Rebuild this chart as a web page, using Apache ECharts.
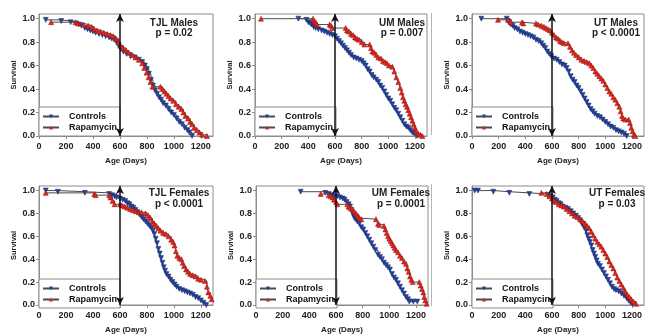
<!DOCTYPE html>
<html><head><meta charset="utf-8">
<script src="https://cdn.jsdelivr.net/npm/echarts@6/dist/echarts.min.js"></script>
<style>html,body{margin:0;padding:0;background:#fff}#c{width:645px;height:335px}</style>
</head><body><div id="c"></div>
<script>
// ---- data: [age (days), survival] ----
const panelTitles = ['TJL Males','UM Males','UT Males','TJL Females','UM Females','UT Females'];
const pValues = ['p = 0.02','p = 0.007','p < 0.0001','p < 0.0001','p = 0.0001','p = 0.03'];
const seriesNames = ['Controls','Rapamycin'];
const xTicks = [0,200,400,600,800,1000,1200];
const yTicks = [0.0,0.2,0.4,0.6,0.8,1.0];
const arrowAge = 600;

const tjlMalesControls = [[50,0.99],[165,0.98],[235,0.97],[275,0.96],[295,0.95],[315,0.94],[340,0.92],[360,0.91],[380,0.90],[400,0.89],[420,0.88],[445,0.87],[470,0.86],[495,0.85],[520,0.84],[540,0.83],[560,0.82],[575,0.80],[590,0.77],[605,0.74],[625,0.72],[650,0.70],[680,0.68],[710,0.67],[740,0.65],[765,0.63],[785,0.60],[800,0.57],[815,0.53],[830,0.48],[845,0.43],[860,0.39],[875,0.36],[890,0.33],[905,0.31],[920,0.28],[940,0.26],[960,0.23],[980,0.20],[1000,0.18],[1020,0.15],[1040,0.12],[1060,0.10],[1080,0.07],[1100,0.05],[1115,0.03],[1135,0.0]];
const tjlMalesRapamycin = [[90,0.97],[270,0.97],[290,0.96],[330,0.95],[365,0.94],[390,0.93],[410,0.91],[430,0.90],[455,0.89],[480,0.88],[505,0.87],[530,0.86],[550,0.85],[570,0.83],[590,0.80],[605,0.77],[625,0.75],[645,0.73],[665,0.71],[690,0.69],[715,0.67],[740,0.65],[765,0.62],[780,0.58],[797,0.54],[812,0.50],[826,0.46],[841,0.42],[900,0.42],[915,0.40],[930,0.38],[945,0.36],[960,0.34],[975,0.32],[995,0.30],[1015,0.27],[1035,0.25],[1055,0.23],[1070,0.20],[1085,0.17],[1105,0.15],[1120,0.12],[1135,0.10],[1150,0.07],[1170,0.05],[1190,0.03],[1210,0.01],[1245,0.0]];

const umMalesControls = [[325,1.0],[385,0.99],[400,0.97],[415,0.96],[425,0.95],[440,0.93],[455,0.92],[475,0.91],[500,0.90],[520,0.89],[540,0.88],[560,0.87],[580,0.86],[600,0.85],[615,0.83],[630,0.81],[645,0.79],[660,0.77],[675,0.75],[690,0.73],[705,0.71],[720,0.69],[740,0.67],[760,0.66],[780,0.65],[800,0.64],[815,0.62],[830,0.60],[845,0.57],[860,0.55],[875,0.52],[890,0.50],[910,0.48],[925,0.46],[940,0.43],[955,0.41],[970,0.38],[985,0.35],[1000,0.32],[1015,0.30],[1030,0.27],[1045,0.24],[1060,0.22],[1075,0.19],[1090,0.16],[1105,0.13],[1120,0.10],[1135,0.08],[1150,0.07],[1165,0.05],[1180,0.03],[1195,0.02],[1215,0.0]];
const umMalesRapamycin = [[45,1.0],[435,1.0],[445,0.98],[455,0.97],[465,0.95],[560,0.95],[570,0.94],[580,0.92],[680,0.92],[690,0.90],[705,0.89],[720,0.87],[735,0.86],[750,0.84],[765,0.83],[780,0.82],[800,0.80],[820,0.78],[860,0.78],[870,0.75],[880,0.72],[895,0.71],[910,0.69],[925,0.67],[945,0.66],[960,0.64],[975,0.63],[990,0.62],[1005,0.60],[1030,0.59],[1045,0.55],[1060,0.50],[1075,0.46],[1090,0.41],[1100,0.37],[1110,0.33],[1120,0.30],[1130,0.27],[1140,0.25],[1150,0.22],[1160,0.19],[1170,0.16],[1180,0.13],[1190,0.10],[1200,0.07],[1210,0.04],[1225,0.02],[1240,0.01],[1255,0.0]];

const utMalesControls = [[70,1.0],[260,1.0],[270,0.98],[280,0.97],[290,0.95],[305,0.94],[320,0.92],[340,0.91],[360,0.89],[380,0.88],[400,0.87],[420,0.86],[440,0.85],[460,0.84],[480,0.82],[500,0.81],[520,0.79],[535,0.77],[550,0.75],[565,0.72],[580,0.70],[595,0.68],[615,0.66],[635,0.65],[655,0.63],[675,0.61],[695,0.60],[710,0.58],[725,0.55],[740,0.51],[755,0.48],[770,0.46],[785,0.43],[800,0.41],[815,0.38],[830,0.35],[845,0.32],[860,0.29],[875,0.26],[890,0.23],[905,0.21],[920,0.19],[940,0.17],[960,0.16],[980,0.14],[1000,0.12],[1020,0.10],[1040,0.08],[1060,0.07],[1080,0.05],[1100,0.04],[1120,0.03],[1140,0.02],[1160,0.0]];
const utMalesRapamycin = [[195,0.99],[270,0.99],[290,0.97],[375,0.97],[385,0.96],[480,0.96],[495,0.95],[520,0.94],[540,0.93],[555,0.92],[570,0.91],[585,0.90],[600,0.88],[615,0.86],[630,0.84],[645,0.83],[660,0.81],[675,0.80],[690,0.79],[720,0.79],[735,0.76],[750,0.73],[765,0.71],[780,0.69],[800,0.67],[820,0.65],[840,0.64],[860,0.63],[880,0.62],[895,0.60],[910,0.58],[925,0.55],[940,0.53],[955,0.51],[970,0.49],[985,0.47],[1000,0.44],[1015,0.41],[1030,0.38],[1045,0.36],[1060,0.33],[1075,0.31],[1090,0.28],[1105,0.25],[1115,0.21],[1125,0.17],[1135,0.15],[1150,0.14],[1175,0.14],[1185,0.11],[1195,0.07],[1205,0.04],[1215,0.01],[1225,0.0]];

const tjlFemalesControls = [[50,1.0],[140,0.99],[340,0.98],[520,0.97],[540,0.96],[560,0.95],[575,0.94],[600,0.93],[620,0.92],[640,0.91],[655,0.89],[670,0.88],[685,0.86],[700,0.85],[715,0.83],[730,0.81],[745,0.79],[760,0.77],[775,0.75],[790,0.73],[805,0.71],[820,0.69],[835,0.67],[845,0.65],[855,0.62],[865,0.58],[875,0.54],[885,0.49],[895,0.45],[905,0.41],[915,0.37],[925,0.33],[935,0.30],[945,0.27],[960,0.25],[975,0.22],[990,0.20],[1005,0.18],[1020,0.16],[1040,0.14],[1060,0.13],[1080,0.12],[1100,0.11],[1120,0.10],[1140,0.09],[1160,0.07],[1180,0.06],[1200,0.04],[1220,0.02],[1240,0.0]];
const tjlFemalesRapamycin = [[50,0.98],[410,0.97],[420,0.96],[520,0.96],[530,0.94],[545,0.91],[560,0.88],[600,0.88],[615,0.87],[635,0.86],[655,0.85],[675,0.84],[695,0.83],[715,0.82],[740,0.81],[760,0.81],[790,0.80],[810,0.78],[825,0.76],[840,0.73],[855,0.71],[870,0.69],[885,0.67],[900,0.65],[920,0.63],[940,0.62],[960,0.60],[980,0.57],[995,0.55],[1005,0.52],[1015,0.47],[1025,0.43],[1040,0.41],[1055,0.40],[1065,0.37],[1075,0.34],[1090,0.31],[1105,0.29],[1120,0.27],[1140,0.26],[1160,0.25],[1180,0.23],[1200,0.22],[1230,0.21],[1245,0.16],[1255,0.11],[1270,0.08],[1280,0.05]];

const umFemalesControls = [[335,0.99],[520,0.98],[545,0.97],[570,0.96],[590,0.95],[610,0.95],[630,0.94],[650,0.93],[665,0.92],[680,0.90],[695,0.88],[705,0.86],[715,0.83],[725,0.80],[735,0.77],[745,0.75],[760,0.73],[775,0.71],[790,0.68],[805,0.66],[820,0.63],[835,0.60],[850,0.57],[865,0.54],[880,0.51],[895,0.48],[915,0.44],[930,0.42],[945,0.40],[960,0.37],[975,0.35],[990,0.33],[1005,0.31],[1020,0.27],[1035,0.24],[1050,0.22],[1065,0.19],[1080,0.16],[1095,0.13],[1110,0.10],[1125,0.07],[1140,0.05],[1150,0.03],[1180,0.03],[1210,0.03]];
const umFemalesRapamycin = [[485,0.97],[545,0.96],[560,0.95],[575,0.94],[585,0.92],[600,0.90],[610,0.88],[685,0.88],[695,0.86],[705,0.85],[720,0.84],[735,0.82],[750,0.80],[765,0.78],[775,0.76],[790,0.75],[900,0.75],[915,0.71],[925,0.70],[960,0.69],[970,0.66],[980,0.63],[990,0.60],[1000,0.58],[1010,0.56],[1020,0.54],[1030,0.52],[1040,0.50],[1050,0.48],[1065,0.46],[1080,0.43],[1095,0.41],[1110,0.38],[1125,0.36],[1135,0.32],[1145,0.29],[1155,0.25],[1165,0.22],[1175,0.20],[1225,0.20],[1235,0.17],[1245,0.14],[1255,0.11],[1262,0.07],[1270,0.04],[1280,0.01]];

const utFemalesControls = [[20,1.0],[45,1.0],[160,0.99],[280,0.98],[430,0.97],[570,0.96],[590,0.95],[605,0.94],[620,0.92],[635,0.91],[650,0.89],[665,0.88],[680,0.86],[700,0.85],[720,0.84],[740,0.82],[760,0.80],[780,0.78],[795,0.76],[810,0.74],[825,0.71],[840,0.68],[855,0.65],[865,0.61],[875,0.58],[885,0.55],[895,0.52],[905,0.48],[915,0.45],[925,0.42],[935,0.39],[945,0.36],[960,0.34],[975,0.31],[990,0.28],[1005,0.25],[1020,0.22],[1035,0.19],[1050,0.16],[1065,0.14],[1080,0.13],[1100,0.12],[1120,0.10],[1140,0.08],[1160,0.06],[1175,0.04],[1190,0.02],[1205,0.01]];
const utFemalesRapamycin = [[520,0.98],[560,0.97],[580,0.95],[600,0.93],[615,0.91],[630,0.90],[650,0.88],[670,0.87],[690,0.86],[710,0.84],[730,0.82],[750,0.80],[770,0.78],[790,0.77],[810,0.75],[830,0.73],[850,0.71],[865,0.69],[880,0.67],[895,0.64],[910,0.61],[925,0.58],[940,0.55],[955,0.53],[970,0.51],[985,0.48],[1000,0.45],[1015,0.42],[1030,0.38],[1045,0.35],[1060,0.32],[1075,0.28],[1090,0.24],[1105,0.21],[1120,0.18],[1135,0.15],[1150,0.12],[1165,0.09],[1180,0.07],[1195,0.05],[1210,0.03],[1230,0.01]];

const controlsData = [tjlMalesControls, umMalesControls, utMalesControls, tjlFemalesControls, umFemalesControls, utFemalesControls];
const rapamycinData = [tjlMalesRapamycin, umMalesRapamycin, utMalesRapamycin, tjlFemalesRapamycin, umFemalesRapamycin, utFemalesRapamycin];

// ---- layout ----
const FONT = 'Arial, "Liberation Sans", sans-serif';
const gridBoxes = [
  {left:39, top:14, width:174, height:122},
  {left:255, top:14, width:172, height:122},
  {left:472, top:14, width:172, height:122},
  {left:39, top:186, width:174, height:122},
  {left:256, top:186, width:172, height:122},
  {left:472, top:186, width:172, height:122}
];
const titlePos = [[174,23,33],[402,23,33],[616,23,33],[179,193,204],[401,193,204],[617,193,204]];

const grid = [], xAxis = [], yAxis = [], series = [], legend = [], graphic = [];
gridBoxes.forEach((g, i) => {
  grid.push(Object.assign({show:true, borderColor:'#8c8c8c', borderWidth:1, backgroundColor:'#fff'}, g));
  xAxis.push({
    gridIndex:i, type:'value', min:0, max:1290, interval:200,
    name:'Age (Days)', nameLocation:'middle', nameGap:21,
    nameTextStyle:{fontFamily:FONT, fontWeight:'bold', fontSize:8, color:'#222'},
    axisLine:{show:true, lineStyle:{color:'#8c8c8c'}},
    axisTick:{show:true, length:3, lineStyle:{color:'#8c8c8c'}},
    axisLabel:{fontFamily:FONT, fontWeight:'bold', fontSize:9, color:'#222', margin:6, showMaxLabel:false,
      formatter: v => xTicks.includes(v) ? String(v) : ''},
    splitLine:{show:false}
  });
  yAxis.push({
    gridIndex:i, type:'value', min:0, max:1.04, interval:0.2,
    name:'Survival', nameLocation:'middle', nameGap:21, nameRotate:90,
    nameTextStyle:{fontFamily:FONT, fontWeight:'bold', fontSize:7.5, color:'#222'},
    axisLine:{show:true, lineStyle:{color:'#8c8c8c'}},
    axisTick:{show:true, length:3, lineStyle:{color:'#8c8c8c'}},
    axisLabel:{fontFamily:FONT, fontWeight:'bold', fontSize:9, color:'#222', margin:4, showMaxLabel:false,
      formatter: v => { const t = yTicks.find(y => Math.abs(y - v) < 1e-6); return t === undefined ? '' : t.toFixed(1); }},
    splitLine:{show:false}
  });
  series.push({
    name:seriesNames[0], type:'line', xAxisIndex:i, yAxisIndex:i, step:'end',
    data:controlsData[i], symbol:'triangle', symbolRotate:180, symbolSize:5, showAllSymbol:true,
    lineStyle:{color:'#4a4a4a', width:1},
    itemStyle:{color:'#24429a', borderColor:'#1a2f70', borderWidth:0.5},
    z:3,
    markLine:{
      silent:true, symbol:['arrow','arrow'], symbolSize:[6,8], animation:false,
      label:{show:false},
      lineStyle:{color:'#111', width:1.5, type:'solid'},
      data:[[{coord:[arrowAge,0]},{coord:[arrowAge,1.04]}]]
    }
  });
  series.push({
    name:seriesNames[1], type:'line', xAxisIndex:i, yAxisIndex:i, step:'end',
    data:rapamycinData[i], symbol:'triangle', symbolSize:5, showAllSymbol:true,
    lineStyle:{color:'#4a4a4a', width:1},
    itemStyle:{color:'#e3231b', borderColor:'#8a1b16', borderWidth:0.5},
    z:4
  });
  legend.push({
    data:seriesNames, orient:'vertical', left:g.left, top:g.top + g.height - 29,
    backgroundColor:'#fff', borderColor:'#8c8c8c', borderWidth:1, borderRadius:0,
    padding:[4,3,3,3], itemGap:0, itemWidth:16, itemHeight:5,
    itemStyle:{borderWidth:0},
    textStyle:{fontFamily:FONT, fontWeight:'bold', fontSize:9, color:'#111', lineHeight:11, padding:[0,0,0,5]},
    selectedMode:false
  });
  const tp = titlePos[i];
  graphic.push({type:'text', x:tp[0], y:tp[1], z:10,
    style:{text:panelTitles[i], fill:'#222', font:'bold 10px ' + FONT, align:'center', verticalAlign:'middle'}});
  graphic.push({type:'text', x:tp[0], y:tp[2], z:10,
    style:{text:pValues[i], fill:'#222', font:'bold 10px ' + FONT, align:'center', verticalAlign:'middle'}});
});
graphic.push({type:'line', shape:{x1:431.5, y1:13, x2:431.5, y2:135}, style:{stroke:'#b5b5b5', lineWidth:1}});
graphic.push({type:'line', shape:{x1:431.5, y1:184, x2:431.5, y2:306}, style:{stroke:'#b5b5b5', lineWidth:1}});

const chart = echarts.init(document.getElementById('c'), null, {renderer:'canvas'});
chart.setOption({animation:false, backgroundColor:'#fff', grid, xAxis, yAxis, series, legend, graphic});
</script></body></html>
